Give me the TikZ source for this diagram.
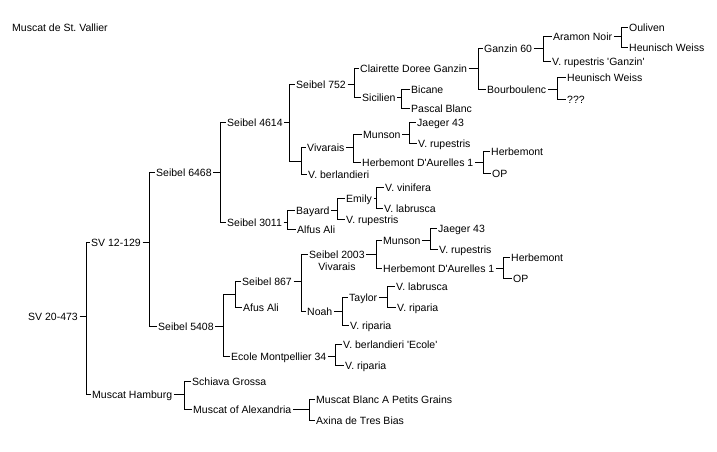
\documentclass[tikz,border=0pt]{standalone}
\usepackage{fontspec}
\setmonofont{Liberation Sans}
\newcommand\fork[3]{\draw[conn] (#1.east) -- (#2) \foreach \c in {#3}{ (#2) |- (\c.west)};}
\begin{document}
\begin{tikzpicture}[x=1pt,y=-1pt,
  lbl/.style={anchor=west, inner xsep=1.5pt, inner ysep=0pt, text height=7.6pt, text depth=0pt, font=\ttfamily\fontsize{10.5}{12}\selectfont},
  sub/.style={inner sep=0pt, text height=7.6pt, text depth=0pt, font=\ttfamily\fontsize{10.5}{12}\selectfont, label distance=4.4pt},
  conn/.style={draw=black, line width=1pt}]
\fill[white] (0,0) rectangle (717,451);
\useasboundingbox (0,0) rectangle (717,451);
% nodes
\node[lbl] (title) at (10.5,27.5) {Muscat de St. Vallier};
\node[lbl] (sv20) at (26.5,316.5) {SV 20-473};
\node[lbl] (sv12) at (89.5,242.5) {SV 12-129};
\node[lbl] (mham) at (90.5,394.5) {Muscat Hamburg};
\node[lbl] (s6468) at (154.5,172.5) {Seibel 6468};
\node[lbl] (s5408) at (156.5,326.5) {Seibel 5408};
\node[lbl] (s4614) at (225.5,122.5) {Seibel 4614};
\node[lbl] (s3011) at (225.5,222.5) {Seibel 3011};
\node[lbl] (s752) at (294.5,84.5) {Seibel 752};
\node[lbl] (viv1) at (305.5,147.5) {Vivarais};
\node[lbl] (vberl) at (306.5,174.5) {V. berlandieri};
\node[lbl] (cdg) at (358.5,68.5) {Clairette Doree Ganzin};
\node[lbl] (sic) at (360.5,97.5) {Sicilien};
\node[lbl] (bic) at (409.5,89.5) {Bicane};
\node[lbl] (pb) at (409.5,108.5) {Pascal Blanc};
\node[lbl] (g60) at (482.5,48.5) {Ganzin 60};
\node[lbl] (bourb) at (485.5,89.5) {Bourboulenc};
\node[lbl] (aramon) at (551.5,36.5) {Aramon Noir};
\node[lbl] (vrg) at (550.5,61.5) {V. rupestris 'Ganzin'};
\node[lbl] (oul) at (627.5,27.5) {Ouliven};
\node[lbl] (hw1) at (627.5,47.5) {Heunisch Weiss};
\node[lbl] (hw2) at (565.5,77.5) {Heunisch Weiss};
\node[lbl] (qqq) at (565.5,99.5) {???};
\node[lbl] (mun1) at (361.5,134.5) {Munson};
\node[lbl] (hda1) at (360.5,162.5) {Herbemont D'Aurelles 1};
\node[lbl] (j43a) at (415.5,122.5) {Jaeger 43};
\node[lbl] (vrup1) at (416.5,143.5) {V. rupestris};
\node[lbl] (herb1) at (489.5,151.5) {Herbemont};
\node[lbl] (op1) at (490.5,173.5) {OP};
\node[lbl] (bayard) at (294.5,210.5) {Bayard};
\node[lbl] (alfus) at (295.5,229.5) {Alfus Ali};
\node[lbl] (emily) at (344.5,198.5) {Emily};
\node[lbl] (vrup2) at (344.5,219.5) {V. rupestris};
\node[lbl] (vvin) at (383.5,187.5) {V. vinifera};
\node[lbl] (vlab1) at (382.5,208.5) {V. labrusca};
\node[lbl] (s867) at (240.5,281.5) {Seibel 867};
\node[lbl] (afus) at (241.5,307.5) {Afus Ali};
\node[lbl] (ecole) at (229.5,356.5) {Ecole Montpellier 34};
\node[lbl, label={[sub]below:Vivarais}] (s2003) at (307.5,254.5) {Seibel 2003};
\node[lbl] (noah) at (305.5,311.5) {Noah};
\node[lbl] (mun2) at (381.5,240.5) {Munson};
\node[lbl] (hda2) at (381.5,268.5) {Herbemont D'Aurelles 1};
\node[lbl] (j43b) at (436.5,228.5) {Jaeger 43};
\node[lbl] (vrup3) at (437.5,249.5) {V. rupestris};
\node[lbl] (herb2) at (509.5,257.5) {Herbemont};
\node[lbl] (op2) at (511.5,278.5) {OP};
\node[lbl] (taylor) at (347.5,297.5) {Taylor};
\node[lbl] (vrip1) at (348.5,325.5) {V. riparia};
\node[lbl] (vlab2) at (394.5,286.5) {V. labrusca};
\node[lbl] (vrip2) at (395.5,307.5) {V. riparia};
\node[lbl] (vbe) at (341.5,344.5) {V. berlandieri 'Ecole'};
\node[lbl] (vrip3) at (343.5,365.5) {V. riparia};
\node[lbl] (schiava) at (190.5,381.5) {Schiava Grossa};
\node[lbl] (moa) at (191.5,409.5) {Muscat of Alexandria};
\node[lbl] (mbpg) at (314.5,399.5) {Muscat Blanc A Petits Grains};
\node[lbl] (axina) at (314.5,420.5) {Axina de Tres Bias};
% junctions
\coordinate (sv20-v) at (86.5,316.5);
\coordinate (sv12-v) at (149.5,242.5);
\coordinate (s6468-v) at (220.5,172.5);
\coordinate (s4614-v) at (289.5,122.5);
\coordinate (cross1) at (301.5,161.5);
\coordinate (s752-v) at (354.5,84.5);
\coordinate (viv1-v) at (353.5,147.5);
\coordinate (cdg-v) at (478.5,68.5);
\coordinate (sic-v) at (401.5,97.5);
\coordinate (g60-v) at (543.5,48.5);
\coordinate (aramon-v) at (621.5,36.5);
\coordinate (bourb-v) at (557.5,89.5);
\coordinate (mun1-v) at (409.5,134.5);
\coordinate (hda1-v) at (483.5,162.5);
\coordinate (s3011-v) at (287.5,222.5);
\coordinate (bayard-v) at (337.5,210.5);
\coordinate (emily-v) at (376.5,198.5);
\coordinate (s5408-v) at (223.5,326.5);
\coordinate (cross2) at (235.5,294.5);
\coordinate (s867-v) at (301.5,281.5);
\coordinate (s2003-v) at (376.5,254.5);
\coordinate (mun2-v) at (430.5,240.5);
\coordinate (hda2-v) at (503.5,268.5);
\coordinate (noah-v) at (342.5,311.5);
\coordinate (taylor-v) at (387.5,297.5);
\coordinate (ecole-v) at (335.5,356.5);
\coordinate (mham-v) at (184.5,394.5);
\coordinate (moa-v) at (309.5,409.5);
% connectors
\fork{sv20}{sv20-v}{sv12,mham}
\fork{sv12}{sv12-v}{s6468,s5408}
\fork{s6468}{s6468-v}{s4614,s3011}
\fork{s4614}{s4614-v}{s752}
\draw[conn] (s4614-v) |- (cross1);
\draw[conn] (cross1) |- (viv1.west) (cross1) |- (vberl.west);
\fork{s752}{s752-v}{cdg,sic}
\fork{viv1}{viv1-v}{mun1,hda1}
\fork{cdg}{cdg-v}{g60,bourb}
\fork{sic}{sic-v}{bic,pb}
\fork{g60}{g60-v}{aramon,vrg}
\fork{aramon}{aramon-v}{oul,hw1}
\fork{bourb}{bourb-v}{hw2,qqq}
\fork{mun1}{mun1-v}{j43a,vrup1}
\fork{hda1}{hda1-v}{herb1,op1}
\fork{s3011}{s3011-v}{bayard,alfus}
\fork{bayard}{bayard-v}{emily,vrup2}
\fork{emily}{emily-v}{vvin,vlab1}
\fork{s5408}{s5408-v}{ecole}
\draw[conn] (s5408-v) |- (cross2);
\draw[conn] (cross2) |- (s867.west) (cross2) |- (afus.west);
\fork{s867}{s867-v}{s2003,noah}
\fork{s2003}{s2003-v}{mun2,hda2}
\fork{mun2}{mun2-v}{j43b,vrup3}
\fork{hda2}{hda2-v}{herb2,op2}
\fork{noah}{noah-v}{taylor,vrip1}
\fork{taylor}{taylor-v}{vlab2,vrip2}
\fork{ecole}{ecole-v}{vbe,vrip3}
\fork{mham}{mham-v}{schiava,moa}
\fork{moa}{moa-v}{mbpg,axina}
\end{tikzpicture}
\end{document}
